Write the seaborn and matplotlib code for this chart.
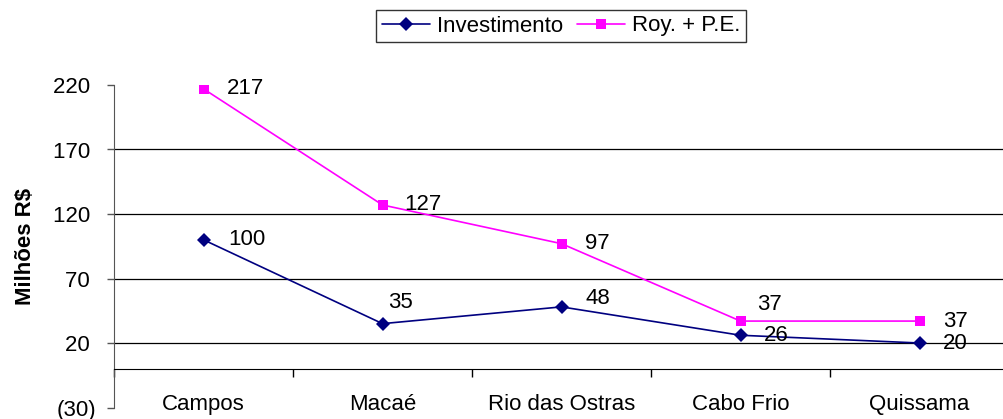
import pandas as pd
import matplotlib
matplotlib.use("Agg")
import matplotlib.pyplot as plt
import seaborn as sns

# data
municipios = ["Campos", "Macaé", "Rio das Ostras", "Cabo Frio", "Quissama"]
investimento = [100, 35, 48, 26, 20]
royalties = [217, 127, 97, 37, 37]
y_ticks = [-30, 20, 70, 120, 170, 220]
# Excel accounting format leaves room for ")" after positive numbers
y_tick_labels = ["(30)", "20 ", "70 ", "120 ", "170 ", "220 "]

# label offsets (points) to mimic Excel's placement
inv_offsets = [(18, 0), (4, 15), (17, 6), (17, 0), (17, 0)]
roy_offsets = [(17, 0), (16, 0), (17, 0), (12, 12), (17, 0)]


def build_frame():
    rows = []
    for m, v in zip(municipios, investimento):
        rows.append({"municipio": m, "valor": v, "serie": "Investimento"})
    for m, v in zip(municipios, royalties):
        rows.append({"municipio": m, "valor": v, "serie": "Roy. + P.E."})
    return pd.DataFrame(rows)


def plot(df):
    sns.set_style("white")
    plt.rcParams["font.family"] = ["Liberation Sans", "DejaVu Sans"]
    plt.rcParams["font.size"] = 16
    for key in ["text.color", "axes.labelcolor", "xtick.color", "ytick.color"]:
        plt.rcParams[key] = "black"

    fig = plt.figure(figsize=(10.04, 4.19), dpi=100)
    ax = fig.add_axes([114 / 1004, 1 - 407.5 / 419, (1009 - 114) / 1004, (407.5 - 85) / 419])

    colors = {"Investimento": "#000080", "Roy. + P.E.": "#FF00FF"}
    sns.lineplot(data=df, x="municipio", y="valor", hue="serie", style="serie",
                 palette=colors, markers={"Investimento": "D", "Roy. + P.E.": "s"},
                 dashes=False, markersize=7, markeredgewidth=0, linewidth=1.2,
                 ax=ax, legend=True)

    for i, (v, off) in enumerate(zip(investimento, inv_offsets)):
        ax.annotate(str(v), (i, v), xytext=off, textcoords="offset points",
                    ha="left", va="center", fontsize=16)
    for i, (v, off) in enumerate(zip(royalties, roy_offsets)):
        ax.annotate(str(v), (i, v), xytext=off, textcoords="offset points",
                    ha="left", va="center", fontsize=16)

    ax.set_xlim(-0.5, len(municipios) - 0.5)
    ax.set_ylim(-30, 220)
    ax.set_yticks(y_ticks)
    ax.set_yticklabels(y_tick_labels)
    for y in y_ticks[1:-1]:
        ax.axhline(y, color="black", linewidth=0.9, zorder=0)

    # x axis crosses at zero, category ticks between the groups
    ax.spines["bottom"].set_position(("data", 0))
    ax.spines["bottom"].set_color("black")
    ax.spines["left"].set_color("#555555")
    ax.spines["top"].set_visible(False)
    ax.spines["right"].set_visible(False)
    ax.set_xticks([i - 0.5 for i in range(len(municipios) + 1)])
    ax.set_xticklabels([])
    ax.set_xticks(range(len(municipios)), minor=True)
    ax.set_xticklabels(municipios, minor=True)
    ax.tick_params(axis="x", which="major", bottom=True, direction="out",
                   length=6, width=1, color="black")
    ax.tick_params(axis="x", which="minor", bottom=False, length=0, pad=18)
    ax.tick_params(axis="y", left=True, direction="out", length=5, width=1,
                   color="#555555", pad=8)

    ax.set_xlabel("")
    ax.set_ylabel("Milhões R$", fontweight="bold", fontsize=16, labelpad=12)

    handles, labels = ax.get_legend_handles_labels()
    ax.get_legend().remove()
    leg = fig.legend(handles, labels, loc="center", ncol=2,
                     bbox_to_anchor=(561 / 1004, 1 - 26 / 419), frameon=True,
                     fancybox=False, edgecolor="black", handlelength=2.2,
                     handletextpad=0.3, columnspacing=0.6, borderpad=0.25,
                     fontsize=16)
    leg.get_frame().set_linewidth(1.0)

    fig.savefig("out.png", dpi=100)


if __name__ == "__main__":
    plot(build_frame())
